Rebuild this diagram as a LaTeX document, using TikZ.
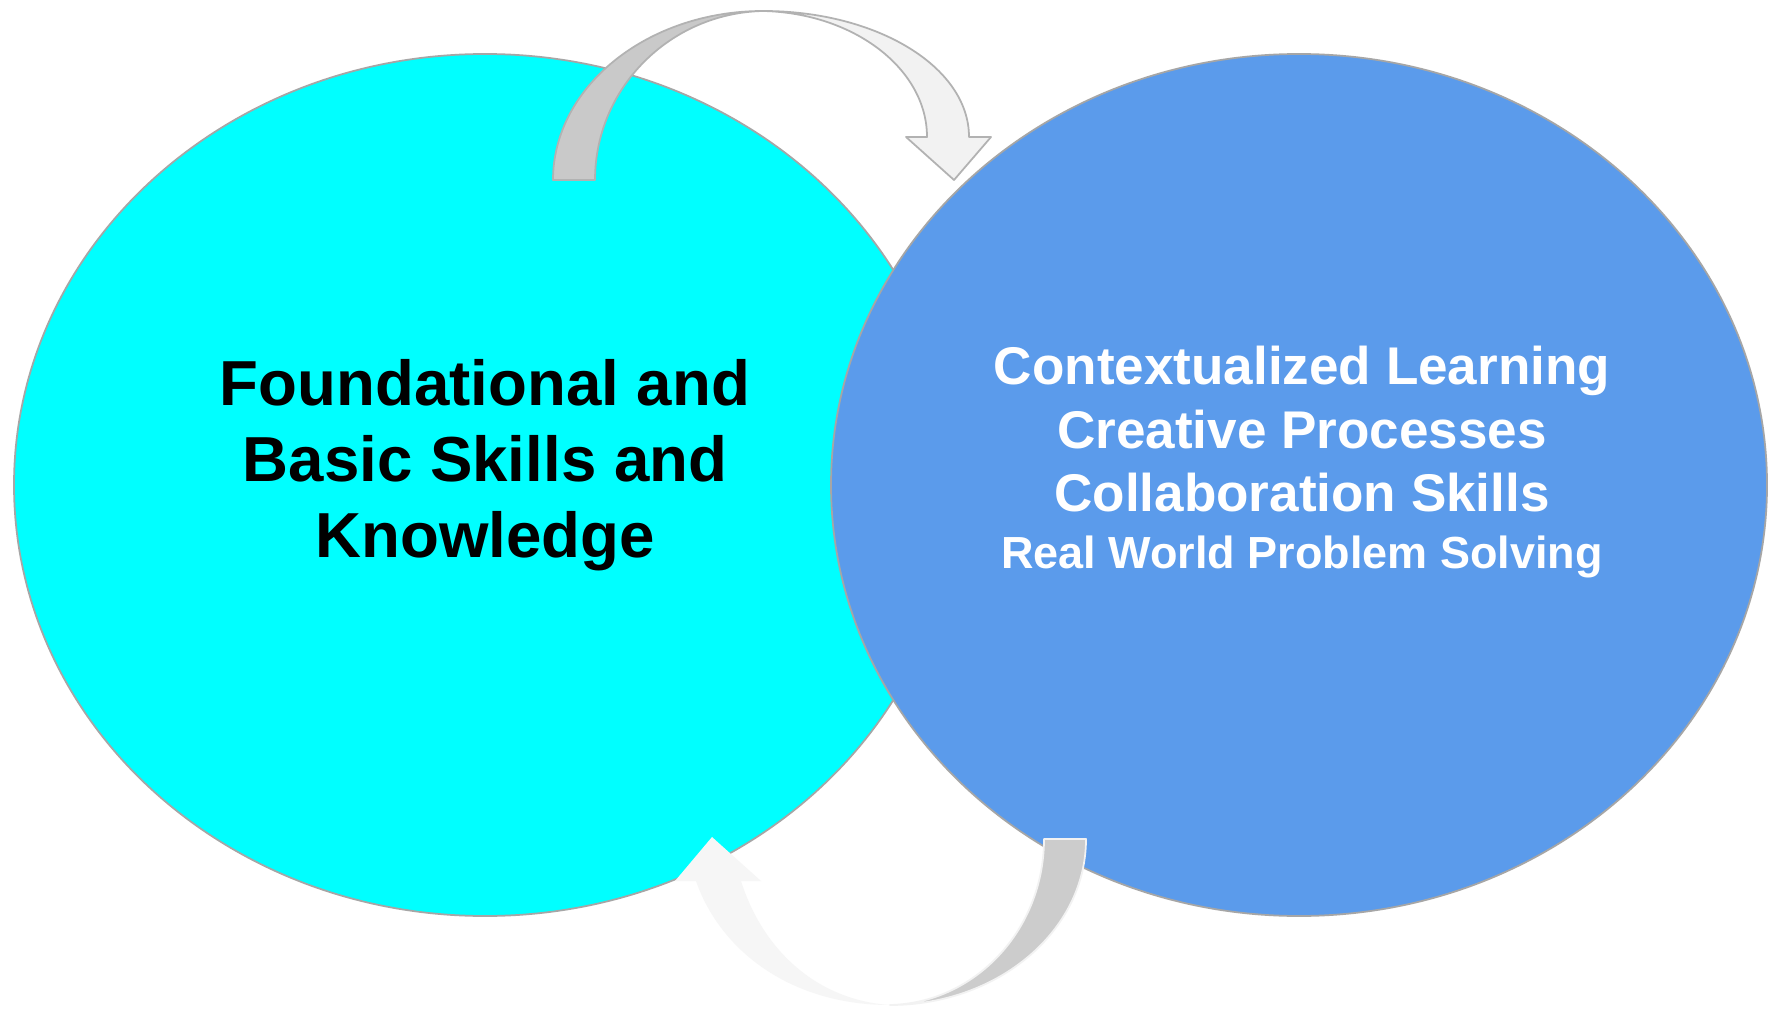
\documentclass[tikz,border=0pt]{standalone}
\usepackage{fontspec}
\setmainfont{Liberation Sans}
\usepackage{xcolor}
\usepackage{tikz}
\usetikzlibrary{positioning,shapes.geometric,calc}
\definecolor{aqua}{RGB}{0,255,255}
\definecolor{skyblue}{RGB}{91,155,235}
\definecolor{rim}{RGB}{166,166,166}
\definecolor{shade}{RGB}{201,201,201}
\definecolor{pale}{RGB}{242,242,242}
\definecolor{edge}{RGB}{178,178,178}
\tikzset{
    blob/.style={ellipse,draw=rim,line width=0.5pt,minimum width=9.42cm,minimum height=8.62cm,inner sep=0pt},
    lbl/.style={align=center,inner sep=0pt,font=\bfseries\fontsize{18.1}{21.6}\selectfont},
    lblw/.style={align=center,inner sep=0pt,text=white,font=\bfseries\fontsize{15.1}{18.1}\selectfont},
    curvdark/.style={fill=shade,draw=edge,line width=0.5pt,line join=round},
    curvpale/.style={fill=pale,draw=edge,line width=0.5pt,line join=round},
}

\begin{document}
\begin{tikzpicture}
\useasboundingbox (0,0) rectangle (17.68,10.10);
\fill[white] (0,0) rectangle (17.68,10.10);
\node[blob,fill=aqua] (fb) at (4.85,5.25) {};
\node[blob,fill=skyblue,minimum width=9.36cm] (cl) at (12.99,5.25) {};
\node[lbl] (fbtxt) at ([yshift=0.195cm]fb.center) {Foundational and\\Basic Skills and\\Knowledge};
\node[lblw] (cltxt) at ([xshift=0.03cm,yshift=0.23cm]cl.center) {Contextualized Learning\\Creative Processes\\Collaboration Skills\\[-2pt]\fontsize{12.8}{15.4}\selectfont Real World Problem Solving};

\filldraw[curvdark] (5.53,8.30) .. controls (5.53,9.23) and (6.47,9.99) .. (7.63,9.99)
    .. controls (6.70,9.97) and (5.95,9.22) .. (5.95,8.30) -- cycle;
\filldraw[curvpale] (7.63,9.99) .. controls (8.77,9.99) and (9.69,9.43) .. (9.69,8.73)
    -- (9.91,8.73) -- (9.54,8.30) -- (9.06,8.73) -- (9.27,8.73)
    .. controls (9.27,9.41) and (8.54,9.97) .. (7.63,9.99) -- cycle;

\filldraw[curvpale,fill=pale!70!white,draw=none] (8.90,0.05) .. controls (7.90,0.05) and (7.20,0.60) .. (6.96,1.29)
    -- (6.75,1.29) -- (7.12,1.73) -- (7.61,1.29) -- (7.41,1.29)
    .. controls (7.62,0.62) and (8.15,0.10) .. (8.90,0.05) -- cycle;
\filldraw[curvdark,fill=shade!95!white,draw=pale] (10.86,1.71) .. controls (10.86,0.79) and (9.98,0.05) .. (8.90,0.05)
    .. controls (9.75,0.07) and (10.44,0.80) .. (10.44,1.71) -- cycle;
\end{tikzpicture}
\end{document}
